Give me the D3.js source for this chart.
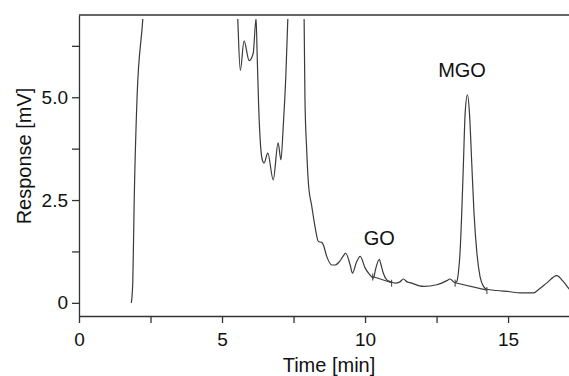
<!DOCTYPE html>
<html>
<head>
<meta charset="utf-8">
<script src="https://cdn.jsdelivr.net/npm/d3@7"></script>
<style>
  body { margin: 0; background: #fff; }
  svg { display: block; font-family: "Liberation Sans", Arial, sans-serif; }
</style>
</head>
<body>
<div id="chart"></div>
<script>
// Chromatogram trace
const time = [1.83, 1.88, 1.93, 2.03, 2.23, 2.4, 5.45, 5.55, 5.64, 5.77, 5.95, 6.09, 6.19,
  6.23, 6.28, 6.35, 6.42, 6.47, 6.60, 6.79, 6.96, 7.06, 7.14, 7.23, 7.30,
  7.40, 7.80, 7.87, 7.90, 7.96, 8.02, 8.14, 8.25, 8.37, 8.49, 8.54, 8.66,
  8.84, 8.95, 9.10, 9.24, 9.32, 9.48, 9.56, 9.69, 9.83, 10.0,
  10.17, 10.29, 10.38, 10.50, 10.56, 10.64, 10.76, 10.87, 11.05, 11.22, 11.34, 11.47, 11.57,
  12.04, 12.51, 12.86, 12.97, 13.15, 13.21, 13.26, 13.32, 13.38, 13.44, 13.50, 13.58,
  13.65, 13.73, 13.81, 13.91, 14.02, 14.14, 14.26,
  14.6, 15.07, 15.42, 15.88, 16.06, 16.35, 16.70, 16.93, 17.11, 17.2];
const response = [0.0, 0.49, 2.5, 5.0, 6.9, 9, 9, 6.9, 5.65, 6.37, 5.89, 6.07, 6.92,
  6.0, 4.8, 3.8, 3.45, 3.40, 3.64, 2.99, 3.89, 3.48, 4.29, 5.51, 6.9,
  10, 10, 6.9, 4.94, 3.72, 2.91, 2.34, 1.86, 1.49, 1.47, 1.41, 1.13,
  0.92, 0.92, 1.00, 1.14, 1.21, 0.92, 0.72, 0.97, 1.13, 0.85,
  0.68, 0.60, 0.85, 1.06, 0.92, 0.72, 0.56, 0.52, 0.48, 0.51, 0.58, 0.51, 0.49,
  0.40, 0.44, 0.54, 0.58, 0.49, 0.52, 0.72, 1.21, 2.18, 3.40, 4.62, 5.06,
  4.62, 3.40, 2.18, 1.21, 0.64, 0.40, 0.33,
  0.30, 0.27, 0.24, 0.24, 0.32, 0.48, 0.66, 0.52, 0.36, 0.28];

// Peak labels and integration baselines
const peakNames = ["GO", "MGO"];
const labelTime = [10.5, 13.39];
const labelResponse = [1.41, 5.5];
const baseStartTime = [10.27, 13.15];
const baseStartResp = [0.64, 0.49];
const baseEndTime = [10.93, 14.26];
const baseEndResp = [0.49, 0.31];

// Axis ticks
const xMajor = [0, 5, 10, 15];
const xMinor = [2.5, 7.5, 12.5];
const yMajor = [0, 2.5, 5];
const yMinor = [1.25, 3.75, 6.25];

const W = 569, H = 376;
const ink = "#333";

const svg = d3.select("#chart").append("svg")
    .attr("width", W)
    .attr("height", H);

const x = d3.scaleLinear().domain([0, 17.2]).range([79, 571]);
const y = d3.scaleLinear().domain([-0.32, 7.0]).range([316, 15]);

// clip for the trace (it runs off the top)
svg.append("clipPath").attr("id", "clip")
    .append("rect")
    .attr("x", x(0))
    .attr("y", y(6.9))
    .attr("width", x(17.2) - x(0))
    .attr("height", y(-0.32) - y(6.9));

// x axis
const xAxis = d3.axisBottom(x)
    .tickValues(xMajor.concat(xMinor))
    .tickFormat(d => xMajor.includes(d) ? d3.format("d")(d) : "")
    .tickSize(7).tickSizeOuter(0).tickPadding(10);
const gx = svg.append("g")
    .attr("transform", `translate(0,${y(-0.32)})`)
    .style("color", ink)
    .call(xAxis);
gx.selectAll("text").style("font-size", "19px").style("fill", "#111");
gx.selectAll("line, path").attr("stroke-width", 1.3);

// y axis
const yAxis = d3.axisLeft(y)
    .tickValues(yMajor.concat(yMinor))
    .tickFormat(d => yMajor.includes(d) ? (d === 0 ? "0" : d3.format(".1f")(d)) : "")
    .tickSize(7).tickSizeOuter(0).tickPadding(4);
const gy = svg.append("g")
    .attr("transform", `translate(${x(0)},0)`)
    .style("color", ink)
    .call(yAxis);
gy.selectAll("text").style("font-size", "19px").style("fill", "#111");
gy.selectAll("line, path").attr("stroke-width", 1.3);

// top frame line
svg.append("line")
    .attr("x1", x(0)).attr("x2", x(17.2))
    .attr("y1", y(7.0)).attr("y2", y(7.0))
    .attr("stroke", ink)
    .attr("stroke-width", 1.3);

// axis titles
svg.append("text")
    .attr("x", 329)
    .attr("y", 372)
    .attr("text-anchor", "middle")
    .style("font-size", "20px")
    .style("fill", "#111")
    .text("Time [min]");

svg.append("text")
    .attr("transform", "translate(31,156) rotate(-90)")
    .attr("text-anchor", "middle")
    .style("font-size", "20px")
    .style("fill", "#111")
    .text("Response [mV]");

// trace
const trace = time.map((t, i) => ({ t: t, v: response[i] }));
const line = d3.line()
    .x(d => x(d.t))
    .y(d => y(d.v))
    .curve(d3.curveMonotoneX);

svg.append("path")
    .datum(trace)
    .attr("clip-path", "url(#clip)")
    .attr("fill", "none")
    .attr("stroke", "#3a3a3a")
    .attr("stroke-width", 1.2)
    .attr("d", line);

// integration baselines with end ticks
const bases = peakNames.map((n, i) => ({
    x1: baseStartTime[i], y1: baseStartResp[i],
    x2: baseEndTime[i], y2: baseEndResp[i]
}));

svg.selectAll(".base")
    .data(bases)
    .enter()
    .append("line")
    .attr("class", "base")
    .attr("x1", d => x(d.x1)).attr("y1", d => y(d.y1))
    .attr("x2", d => x(d.x2)).attr("y2", d => y(d.y2))
    .attr("stroke", "#3a3a3a")
    .attr("stroke-width", 1.1);

const ends = bases.flatMap(d => [{ t: d.x1, v: d.y1 }, { t: d.x2, v: d.y2 }]);
svg.selectAll(".endtick")
    .data(ends)
    .enter()
    .append("line")
    .attr("class", "endtick")
    .attr("x1", d => x(d.t)).attr("x2", d => x(d.t))
    .attr("y1", d => y(d.v) - 3).attr("y2", d => y(d.v) + 4)
    .attr("stroke", "#3a3a3a")
    .attr("stroke-width", 1);

// peak labels
svg.selectAll(".peaklabel")
    .data(peakNames)
    .enter()
    .append("text")
    .attr("class", "peaklabel")
    .attr("x", (d, i) => x(labelTime[i]))
    .attr("y", (d, i) => y(labelResponse[i]))
    .attr("text-anchor", "middle")
    .style("font-size", "20px")
    .style("fill", "#111")
    .text(d => d);
</script>
</body>
</html>
